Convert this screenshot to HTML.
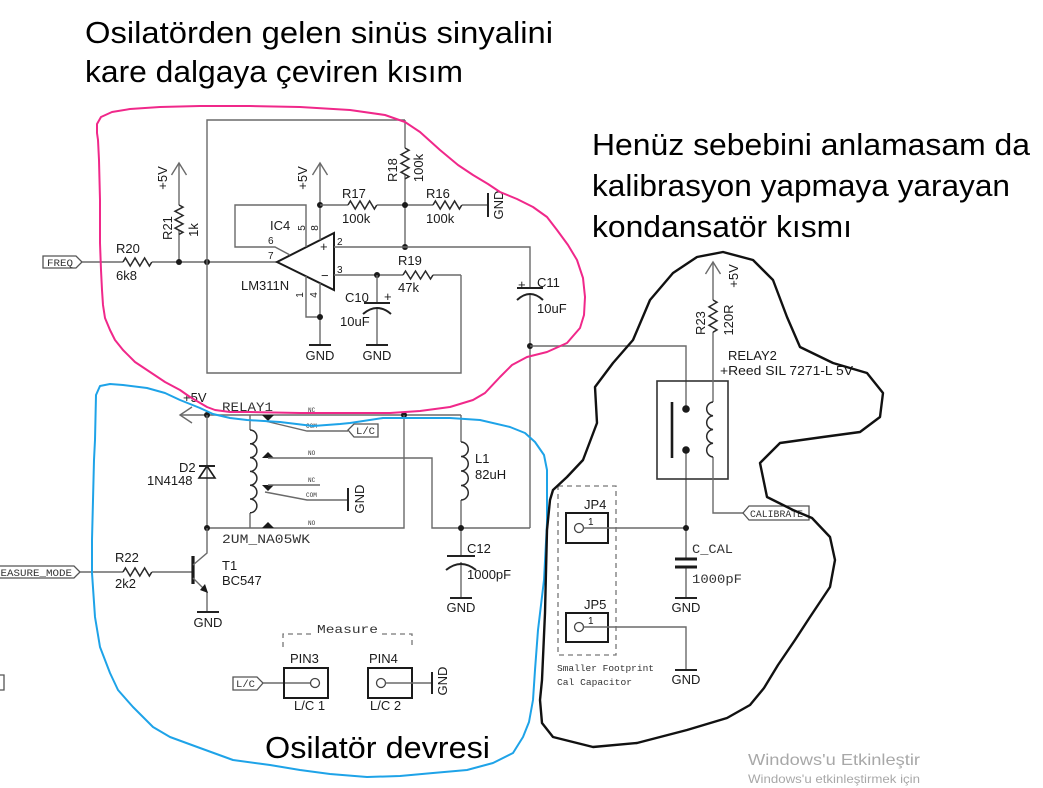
<!DOCTYPE html>
<html><head><meta charset="utf-8">
<style>
html,body{margin:0;padding:0;background:#fff;}
svg{display:block;}
.t{font-family:"Liberation Sans",sans-serif;font-size:13px;fill:#1a1a1a;}
.s{font-family:"Liberation Sans",sans-serif;font-size:10px;fill:#1a1a1a;}
.m{font-family:"Liberation Mono",monospace;fill:#333;}
.h{font-family:"Liberation Sans","DejaVu Sans",sans-serif;font-size:31px;fill:#000;}
.w{stroke:#6a6a6a;stroke-width:1.4;fill:none;}
.r{stroke:#2a2a2a;stroke-width:1.5;fill:none;stroke-linejoin:miter;}
.k{stroke:#222;stroke-width:2;fill:none;}
.d{fill:#1a1a1a;}
</style></head>
<body>
<svg width="1043" height="788" viewBox="0 0 1043 788" xmlns="http://www.w3.org/2000/svg">
<rect width="1043" height="788" fill="#fff"/>

<!-- Headlines -->
<text class="h" x="85" y="43" textLength="468" lengthAdjust="spacingAndGlyphs">Osilatörden gelen sinüs sinyalini</text>
<text class="h" x="85" y="82" textLength="378" lengthAdjust="spacingAndGlyphs">kare dalgaya çeviren kısım</text>
<text class="h" x="592" y="155" textLength="438" lengthAdjust="spacingAndGlyphs">Henüz sebebini anlamasam da</text>
<text class="h" x="592" y="196" textLength="418" lengthAdjust="spacingAndGlyphs">kalibrasyon yapmaya yarayan</text>
<text class="h" x="592" y="237" textLength="260" lengthAdjust="spacingAndGlyphs">kondansatör kısmı</text>
<text class="h" x="265" y="758" textLength="225" lengthAdjust="spacingAndGlyphs">Osilatör devresi</text>

<!-- Windows watermark -->
<text x="748" y="765" style="font-family:'Liberation Sans',sans-serif;font-size:16px;fill:#a8a8a8" textLength="172" lengthAdjust="spacingAndGlyphs">Windows'u Etkinleştir</text>
<text x="748" y="783" style="font-family:'Liberation Sans',sans-serif;font-size:12px;fill:#a8a8a8" textLength="172" lengthAdjust="spacingAndGlyphs">Windows'u etkinleştirmek için</text>

<!-- ========== Comparator section ========== -->
<!-- FREQ tag -->
<polygon points="43,256 76,256 82,262 76,268 43,268" fill="none" stroke="#555" stroke-width="1.3"/>
<text class="m" x="47" y="266" font-size="10" textLength="26" lengthAdjust="spacingAndGlyphs">FREQ</text>
<path class="w" d="M82,262 H123 M152,262 H277"/>
<path class="r" d="M123,262 l2.4,-4 l4.8,8 l4.8,-8 l4.8,8 l4.8,-8 l4.8,8 l2.4,-4"/>
<text class="t" x="116" y="253">R20</text>
<text class="t" x="116" y="280">6k8</text>
<!-- R21 -->
<path class="w" d="M179,262 V230 M179,205 V163"/>
<path class="r" d="M179,205 l4,2.1 l-8,4.2 l8,4.2 l-8,4.2 l8,4.2 l-8,4.2 l8,4.2 l-4,2.1"/>
<path class="w" d="M171.5,175 L179,163 L186.5,175"/>
<text class="t" transform="rotate(-90 167 178)" x="167" y="178" text-anchor="middle">+5V</text>
<text class="t" transform="rotate(-90 172 228)" x="172" y="228" text-anchor="middle">R21</text>
<text class="t" transform="rotate(-90 198 230)" x="198" y="230" text-anchor="middle">1k</text>
<circle class="d" cx="179" cy="262" r="3"/>
<circle class="d" cx="207" cy="262" r="3"/>
<!-- Box -->
<path class="w" d="M405,120 H207 V373 H461 V275"/>
<!-- opamp -->
<path d="M277,262 L334,233 L334,290 Z" fill="none" stroke="#1a1a1a" stroke-width="2"/>
<text class="t" x="320" y="251" font-size="12">+</text>
<text class="t" x="321" y="280" font-size="12">−</text>
<path class="w" d="M320,163 V240 M320,283 V345 M306,276 V317 H320"/>
<path class="w" d="M312.5,175 L320,163 L327.5,175"/>
<path class="w" d="M306,247 V205 H235 V247 H275 L290,255"/>
<circle class="d" cx="320" cy="205" r="3"/>
<circle class="d" cx="320" cy="317" r="3"/>
<path class="k" d="M309,345 H331"/>
<text class="t" x="320" y="360" text-anchor="middle">GND</text>
<text class="t" transform="rotate(-90 307 178)" x="307" y="178" text-anchor="middle">+5V</text>
<text class="t" x="270" y="230">IC4</text>
<text class="t" x="241" y="290">LM311N</text>
<text class="s" transform="rotate(-90 305 228)" x="305" y="228" text-anchor="middle">5</text>
<text class="s" transform="rotate(-90 318 228)" x="318" y="228" text-anchor="middle">8</text>
<text class="s" x="268" y="244">6</text>
<text class="s" x="268" y="259">7</text>
<text class="s" transform="rotate(-90 303 295)" x="303" y="295" text-anchor="middle">1</text>
<text class="s" transform="rotate(-90 317 295)" x="317" y="295" text-anchor="middle">4</text>
<text class="s" x="337" y="245">2</text>
<text class="s" x="337" y="273">3</text>
<!-- R17 / R16 / R18 -->
<path class="w" d="M320,205 H348 M377,205 H433 M462,205 H487"/>
<path class="r" d="M348,205 l2.4,-4 l4.8,8 l4.8,-8 l4.8,8 l4.8,-8 l4.8,8 l2.4,-4"/>
<path class="r" d="M433,205 l2.4,-4 l4.8,8 l4.8,-8 l4.8,8 l4.8,-8 l4.8,8 l2.4,-4"/>
<path class="k" d="M488,193 V217"/>
<text class="t" transform="rotate(-90 503 205)" x="503" y="205" text-anchor="middle">GND</text>
<text class="t" x="342" y="198">R17</text>
<text class="t" x="342" y="223">100k</text>
<text class="t" x="426" y="198">R16</text>
<text class="t" x="426" y="223">100k</text>
<path class="w" d="M405,120 V148 M405,175 V247"/>
<path class="r" d="M405,148 l4,2.2 l-8,4.4 l8,4.4 l-8,4.4 l8,4.4 l-8,4.4 l8,4.4 l-4,2.2"/>
<text class="t" transform="rotate(-90 397 170)" x="397" y="170" text-anchor="middle">R18</text>
<text class="t" transform="rotate(-90 423 168)" x="423" y="168" text-anchor="middle">100k</text>
<circle class="d" cx="405" cy="205" r="3"/>
<circle class="d" cx="405" cy="247" r="3"/>
<!-- pin2 / C11 -->
<path class="w" d="M334,247 H530 V288 M530,294 V528"/>
<path class="k" d="M517,288 H543" stroke-width="1.6"/>
<path class="k" d="M517,300 Q530,288 543,300" stroke-width="1.6"/>
<text class="t" x="518" y="289" font-size="11">+</text>
<text class="t" x="537" y="287">C11</text>
<text class="t" x="537" y="313">10uF</text>
<circle class="d" cx="530" cy="346" r="3"/>
<!-- pin3 / R19 / C10 -->
<path class="w" d="M334,275 H403 M433,275 H461"/>
<path class="r" d="M403,275 l2.5,-4 l5,8 l5,-8 l5,8 l5,-8 l5,8 l2.5,-4"/>
<circle class="d" cx="377" cy="275" r="3"/>
<text class="t" x="398" y="265">R19</text>
<text class="t" x="398" y="292">47k</text>
<path class="w" d="M377,275 V303 M377,308 V345"/>
<path class="k" d="M364,303 H390" stroke-width="1.6"/>
<path class="k" d="M363,314 Q377,302 391,314" stroke-width="1.6"/>
<text class="t" x="384" y="301" font-size="11">+</text>
<text class="t" x="345" y="302">C10</text>
<text class="t" x="340" y="326">10uF</text>
<path class="k" d="M366,345 H388"/>
<text class="t" x="377" y="360" text-anchor="middle">GND</text>

<!-- ========== Relay1 / oscillator ========== -->
<path class="w" d="M180,415 H461"/>
<path class="w" d="M192,407 L180,415 L192,423"/>
<text class="t" x="183" y="402">+5V</text>
<text class="m" x="222" y="411" font-size="13" textLength="51" lengthAdjust="spacingAndGlyphs">RELAY1</text>
<circle class="d" cx="207" cy="415" r="3"/>
<circle class="d" cx="404" cy="415" r="3"/>
<!-- D2 -->
<path class="w" d="M207,415 V528"/>
<path d="M207,466 L215,478 L199,478 Z" fill="none" stroke="#1a1a1a" stroke-width="1.6"/>
<path class="k" d="M199,466 H215" stroke-width="1.6"/>
<text class="t" x="179" y="472">D2</text>
<text class="t" x="147" y="485">1N4148</text>
<!-- relay coil -->
<path class="w" d="M250,415 V430 M250,513 V528"/>
<path class="r" d="M250,430 a6.9,6.9 0 0,1 0,13.8 a6.9,6.9 0 0,1 0,13.8 a6.9,6.9 0 0,1 0,13.8 a6.9,6.9 0 0,1 0,13.8 a6.9,6.9 0 0,1 0,13.8 a6.9,6.9 0 0,1 0,13.8"/>
<path class="w" d="M207,528 H404 V415"/>
<circle class="d" cx="207" cy="528" r="3"/>
<text class="m" x="222" y="543" font-size="13" textLength="88" lengthAdjust="spacingAndGlyphs">2UM_NA05WK</text>
<!-- contacts -->
<path class="d" d="M262,415 L274,415 L268,421 Z"/>
<path class="d" d="M262,458 L274,458 L268,452 Z"/>
<path class="d" d="M262,485 L274,485 L268,491 Z"/>
<path class="d" d="M262,528 L274,528 L268,522 Z"/>
<path class="w" d="M265,421 L307,431 H348"/>
<path class="w" d="M268,458 H432 V528 H530"/>
<path class="w" d="M268,485 H320"/>
<path class="w" d="M265,492 L307,500 H348"/>
<path class="k" d="M348,488 V511"/>
<text class="t" transform="rotate(-90 364 499)" x="364" y="499" text-anchor="middle">GND</text>
<text class="m" x="308" y="412" font-size="6">NC</text>
<text class="m" x="306" y="428" font-size="6">COM</text>
<text class="m" x="308" y="455" font-size="6">NO</text>
<text class="m" x="308" y="482" font-size="6">NC</text>
<text class="m" x="306" y="497" font-size="6">COM</text>
<text class="m" x="308" y="525" font-size="6">NO</text>
<polygon points="348,430 354,424 378,424 378,437 354,437" fill="none" stroke="#555" stroke-width="1.3"/>
<text class="m" x="356" y="434" font-size="10" textLength="19" lengthAdjust="spacingAndGlyphs">L/C</text>
<!-- L1 / C12 -->
<path class="w" d="M461,415 V442 M461,500 V556 M461,562 V598"/>
<path class="r" d="M461,442 a7.25,7.25 0 0,1 0,14.5 a7.25,7.25 0 0,1 0,14.5 a7.25,7.25 0 0,1 0,14.5 a7.25,7.25 0 0,1 0,14.5"/>
<circle class="d" cx="461" cy="528" r="3"/>
<text class="t" x="475" y="463">L1</text>
<text class="t" x="475" y="479">82uH</text>
<path class="k" d="M447,556 H475" stroke-width="1.6"/>
<path class="k" d="M446,570 Q461,558 476,570" stroke-width="1.6"/>
<text class="t" x="467" y="553">C12</text>
<text class="t" x="467" y="579">1000pF</text>
<path class="k" d="M450,598 H472"/>
<text class="t" x="461" y="612" text-anchor="middle">GND</text>
<!-- T1 -->
<polygon points="-2,566 74,566 80,572 74,578 -2,578" fill="none" stroke="#555" stroke-width="1.3"/>
<text class="m" x="-6" y="576" font-size="10" textLength="78" lengthAdjust="spacingAndGlyphs">MEASURE_MODE</text>
<path class="w" d="M80,572 H123 M152,572 H193"/>
<path class="r" d="M123,572 l2.4,-4 l4.8,8 l4.8,-8 l4.8,8 l4.8,-8 l4.8,8 l2.4,-4"/>
<text class="t" x="115" y="562">R22</text>
<text class="t" x="115" y="588">2k2</text>
<path d="M193,556 V584" stroke="#1a1a1a" stroke-width="3.2"/>
<path class="w" d="M193,565 L207,553 V528 M193,578 L207,592 V612" stroke="#444"/>
<path class="d" d="M208,593 L200,590 L205,584 Z"/>
<path class="k" d="M197,612 H219"/>
<text class="t" x="208" y="627" text-anchor="middle">GND</text>
<text class="t" x="222" y="570">T1</text>
<text class="t" x="222" y="585">BC547</text>
<!-- left edge stub -->
<path d="M-2,675 H4 V690 H-2" fill="none" stroke="#555" stroke-width="1.3"/>
<!-- Measure -->
<path d="M283,647 V634 H314 M382,634 H412 V647" fill="none" stroke="#777" stroke-width="1.3" stroke-dasharray="5,4"/>
<text class="m" x="317" y="633" font-size="12" textLength="61" lengthAdjust="spacingAndGlyphs">Measure</text>
<text class="t" x="290" y="663">PIN3</text>
<text class="t" x="369" y="663">PIN4</text>
<polygon points="233,677 257,677 263,683 257,690 233,690" fill="none" stroke="#555" stroke-width="1.3"/>
<text class="m" x="236" y="687" font-size="10" textLength="19" lengthAdjust="spacingAndGlyphs">L/C</text>
<path class="w" d="M263,683 H311"/>
<rect x="284" y="668" width="44" height="30" fill="none" stroke="#1a1a1a" stroke-width="2"/>
<circle cx="315" cy="683" r="4.5" fill="#fff" stroke="#444" stroke-width="1.3"/>
<rect x="368" y="668" width="44" height="30" fill="none" stroke="#1a1a1a" stroke-width="2"/>
<circle cx="381" cy="683" r="4.5" fill="#fff" stroke="#444" stroke-width="1.3"/>
<path class="w" d="M385.5,683 H432"/>
<path class="k" d="M432,672 V694"/>
<text class="t" transform="rotate(-90 447 681)" x="447" y="681" text-anchor="middle">GND</text>
<text class="t" x="294" y="710">L/C 1</text>
<text class="t" x="370" y="710">L/C 2</text>

<!-- ========== Calibration section ========== -->
<path class="w" d="M530,346 H686 V409 M686,450 V528 V559 M686,567 V598"/>
<rect x="657" y="381" width="71" height="98" fill="none" stroke="#333" stroke-width="1.6"/>
<path d="M672,402 V458" stroke="#1a1a1a" stroke-width="2.6"/>
<circle class="d" cx="686" cy="409" r="3.8"/>
<circle class="d" cx="686" cy="450" r="3.8"/>
<path class="w" d="M713,262 V300 M713,332 V402 M713,457 V513 H743"/>
<path class="w" d="M705.5,274 L713,262 L720.5,274"/>
<path class="r" d="M713,300 l4,2.3 l-8,4.6 l8,4.6 l-8,4.6 l8,4.6 l-8,4.6 l8,4.6 l-4,2.3"/>
<path class="r" d="M713,402 a6.9,6.9 0 0,0 0,13.75 a6.9,6.9 0 0,0 0,13.75 a6.9,6.9 0 0,0 0,13.75 a6.9,6.9 0 0,0 0,13.75"/>
<text class="t" transform="rotate(-90 738 276)" x="738" y="276" text-anchor="middle">+5V</text>
<text class="t" transform="rotate(-90 705 323)" x="705" y="323" text-anchor="middle">R23</text>
<text class="t" transform="rotate(-90 733 320)" x="733" y="320" text-anchor="middle">120R</text>
<text class="t" x="728" y="360">RELAY2</text>
<text class="t" x="720" y="375" textLength="133" lengthAdjust="spacingAndGlyphs">+Reed SIL 7271-L 5V</text>
<polygon points="743,513 749,506 809,506 809,520 749,520" fill="none" stroke="#555" stroke-width="1.3"/>
<text class="m" x="750" y="517" font-size="10" textLength="53" lengthAdjust="spacingAndGlyphs">CALIBRATE</text>
<!-- JP4/JP5 -->
<rect x="558" y="486" width="58" height="169" fill="none" stroke="#777" stroke-width="1.3" stroke-dasharray="5,4"/>
<text class="t" x="584" y="509">JP4</text>
<rect x="566" y="513" width="42" height="30" fill="none" stroke="#1a1a1a" stroke-width="2"/>
<circle cx="579" cy="528" r="4.5" fill="#fff" stroke="#444" stroke-width="1.3"/>
<text class="s" x="588" y="525">1</text>
<path class="w" d="M583.5,528 H686"/>
<circle class="d" cx="686" cy="528" r="3"/>
<path d="M675,559 H697 M675,567 H697" stroke="#1a1a1a" stroke-width="3"/>
<text class="m" x="692" y="553" font-size="13" textLength="41" lengthAdjust="spacingAndGlyphs">C_CAL</text>
<text class="m" x="692" y="583" font-size="13" textLength="50" lengthAdjust="spacingAndGlyphs">1000pF</text>
<path class="k" d="M675,598 H697"/>
<text class="t" x="686" y="612" text-anchor="middle">GND</text>
<text class="t" x="584" y="609">JP5</text>
<rect x="566" y="613" width="42" height="29" fill="none" stroke="#1a1a1a" stroke-width="2"/>
<circle cx="579" cy="627" r="4.5" fill="#fff" stroke="#444" stroke-width="1.3"/>
<text class="s" x="588" y="624">1</text>
<path class="w" d="M583.5,627 H686 V670"/>
<path class="k" d="M675,670 H697"/>
<text class="t" x="686" y="684" text-anchor="middle">GND</text>
<text class="m" x="557" y="671" font-size="9.5" textLength="97" lengthAdjust="spacingAndGlyphs">Smaller Footprint</text>
<text class="m" x="557" y="685" font-size="9.5" textLength="75" lengthAdjust="spacingAndGlyphs">Cal Capacitor</text>

<!-- ========== Freehand outlines ========== -->
<polyline fill="none" stroke="#f0288a" stroke-width="2" stroke-linejoin="round" stroke-linecap="round"
points="97,133 97,124 101,117 112,112 130,109 160,107 200,106 250,106 300,107 350,110 385,115 405,122 420,132 440,150 458,165 473,175 488,184 500,192 517,199 533,207 547,217 557,230 568,245 577,260 583,278 585,297 584,315 580,328 567,343 547,352 527,357 512,365 500,377 485,393 473,400 450,407 420,411 390,413 340,413 300,413 250,412 230,412 215,410 207,407 190,397 180,390 165,382 147,370 135,362 123,350 115,340 110,330 105,318 103,305 102,290 101,270 100,243 100,200 99,160 98,140 97,133"/>
<polyline fill="none" stroke="#1ea3e8" stroke-width="2" stroke-linejoin="round" stroke-linecap="round"
points="95,440 96,395 100,386 110,384 123,385 147,388 165,393 180,400 200,408 213,414 230,418 247,420 280,422 313,426 340,424 350,423 383,418 450,418 480,420 510,427 525,433 535,442 544,455 547,470 547,523 544,580 538,630 535,670 533,700 529,722 523,737 513,753 493,763 467,770 433,773 400,776 367,777 330,774 300,770 270,765 233,760 200,748 170,737 153,727 133,707 118,690 110,673 100,647 95,617 92,573 92,540 93,500 94,460 95,440"/>
<polyline fill="none" stroke="#111" stroke-width="2.4" stroke-linejoin="round" stroke-linecap="round"
points="553,490 567,477 583,460 597,423 595,387 613,363 633,340 650,300 673,273 697,257 723,252 753,260 773,280 787,317 800,347 833,363 867,373 883,393 880,417 860,432 823,437 780,443 760,463 767,497 793,510 812,518 830,537 835,560 830,587 810,617 795,640 778,665 764,688 750,705 727,718 687,730 637,743 593,747 553,737 542,723 540,700 542,680 545,613 547,530 550,500 553,490"/>
</svg>
</body></html>
